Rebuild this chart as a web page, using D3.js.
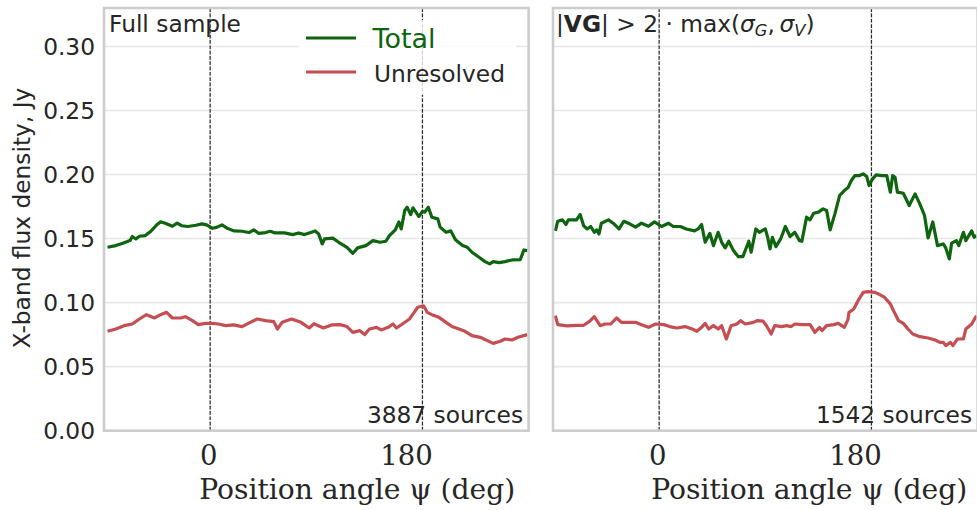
<!DOCTYPE html>
<html>
<head>
<meta charset="utf-8">
<script src="https://cdn.jsdelivr.net/npm/d3@7"></script>
<style>
  body { margin: 0; background: #fff; }
  svg text { font-family: "DejaVu Sans", sans-serif; fill: #262626; }
  .serif { font-family: "DejaVu Serif", serif; }
</style>
</head>
<body>
<div id="chart"></div>
<script>
// tick values
var yTicks = [0, 0.05, 0.10, 0.15, 0.20, 0.25, 0.30];
var xTicks = [0, 180];
var xTickLabels = ["0", "180"];
var seriesNames = ["Total", "Unresolved"];
var sourceCounts = [3887, 1542];

// full sample, total flux  [angle, Jy]
var fullTotal = [[-87,0.1432],[-80,0.1445],[-74,0.1464],[-68,0.1484],[-66,0.1516],[-63,0.1497],[-60,0.1518],[-55,0.1523],[-50,0.156],[-45,0.161],[-42,0.163],[-38,0.162],[-32,0.1596],[-28,0.162],[-24,0.160],[-19,0.1594],[-12,0.1604],[-7,0.1615],[-3,0.1607],[2,0.158],[6,0.1589],[10,0.1607],[14,0.1583],[20,0.156],[27,0.1557],[33,0.1547],[37,0.1568],[41,0.1541],[47,0.1547],[51,0.1557],[55,0.1544],[63,0.1544],[70,0.1531],[75,0.1544],[80,0.1531],[86,0.1549],[89,0.156],[92,0.1536],[95,0.1458],[97,0.1497],[104,0.1503],[109,0.1471],[116,0.1432],[121,0.1385],[125,0.1427],[132,0.1445],[138,0.1484],[144,0.1471],[149,0.1479],[152,0.1523],[157,0.1568],[160,0.163],[162,0.1575],[165,0.1719],[167,0.1745],[170,0.1687],[172,0.174],[177,0.1672],[180,0.1713],[182,0.1706],[185,0.1745],[188,0.1667],[193,0.1654],[195,0.1589],[200,0.1549],[204,0.156],[208,0.149],[214,0.1445],[218,0.1432],[222,0.1393],[228,0.1354],[233,0.132],[237,0.1302],[240,0.132],[245,0.1312],[250,0.132],[256,0.1333],[263,0.1336],[266,0.1411],[269,0.1406]];

// full sample, unresolved
var fullUnres = [[-87,0.0776],[-80,0.0794],[-73,0.082],[-66,0.0833],[-60,0.0872],[-54,0.0906],[-47,0.088],[-42,0.0906],[-37,0.0924],[-32,0.088],[-25,0.088],[-21,0.089],[-15,0.0859],[-10,0.0828],[-4,0.0838],[2,0.0838],[7,0.0833],[13,0.082],[20,0.0826],[27,0.0813],[34,0.0846],[40,0.0872],[47,0.0859],[54,0.0852],[57,0.0794],[61,0.0846],[69,0.0872],[77,0.0846],[84,0.0802],[88,0.0835],[96,0.0802],[103,0.0826],[110,0.0828],[116,0.0813],[121,0.0768],[127,0.0781],[131,0.075],[135,0.0794],[141,0.0807],[145,0.0787],[151,0.0807],[155,0.0833],[158,0.0802],[163,0.0833],[169,0.0872],[173,0.0924],[176,0.0964],[181,0.0975],[184,0.0924],[188,0.0906],[194,0.0885],[200,0.0846],[205,0.0813],[211,0.0794],[216,0.0776],[222,0.0742],[229,0.0729],[235,0.0703],[240,0.0682],[246,0.0698],[250,0.0716],[256,0.0708],[261,0.0729],[269,0.075]];

// |VG| cut, total flux
var vgTotal = [[-88,0.156],[-86,0.1635],[-82,0.1646],[-79,0.161],[-77,0.1646],[-70,0.1646],[-67,0.1688],[-64,0.160],[-61,0.1575],[-58,0.1594],[-55,0.1549],[-53,0.1568],[-51,0.1536],[-49,0.162],[-43,0.1646],[-39,0.162],[-34,0.1575],[-30,0.1635],[-25,0.1615],[-20,0.1589],[-15,0.162],[-9,0.1596],[-4,0.163],[2,0.1594],[8,0.162],[12,0.1594],[18,0.1594],[23,0.1575],[30,0.156],[33,0.1575],[36,0.161],[39,0.1471],[43,0.1541],[46,0.1445],[50,0.1549],[53,0.1471],[56,0.1427],[59,0.1479],[63,0.1406],[67,0.1359],[71,0.1359],[76,0.1479],[78,0.1393],[82,0.1575],[85,0.1549],[88,0.1566],[90,0.1575],[92,0.151],[94,0.1419],[96,0.151],[99,0.1437],[103,0.1497],[107,0.1594],[111,0.1516],[115,0.1549],[119,0.1484],[121,0.1479],[125,0.1667],[128,0.1646],[131,0.1698],[135,0.1706],[139,0.1732],[142,0.1719],[145,0.1568],[149,0.1693],[153,0.1836],[157,0.1875],[160,0.1896],[163,0.1953],[166,0.1992],[170,0.1992],[173,0.2005],[176,0.1984],[178,0.1914],[181,0.1966],[184,0.1997],[189,0.1992],[193,0.1992],[196,0.1862],[198,0.1992],[200,0.1979],[202,0.1862],[207,0.1854],[212,0.1758],[217,0.1849],[221,0.1771],[225,0.168],[228,0.1505],[232,0.163],[236,0.1445],[241,0.1458],[243,0.1427],[246,0.1341],[248,0.1464],[252,0.1484],[254,0.1445],[258,0.1549],[260,0.1484],[265,0.156],[267,0.151],[269,0.1523]];

// |VG| cut, unresolved
var vgUnres = [[-88,0.0898],[-86,0.0828],[-78,0.0818],[-70,0.0823],[-64,0.0823],[-59,0.0854],[-55,0.089],[-50,0.082],[-46,0.0833],[-41,0.0833],[-36,0.088],[-32,0.0846],[-26,0.0846],[-20,0.0846],[-15,0.0828],[-9,0.0807],[-3,0.0833],[4,0.0828],[9,0.0813],[15,0.0802],[22,0.0813],[28,0.0794],[32,0.0776],[36,0.0807],[39,0.0838],[42,0.0794],[46,0.082],[50,0.0794],[53,0.082],[57,0.0716],[61,0.082],[66,0.0833],[69,0.0859],[73,0.0833],[80,0.0846],[83,0.0859],[88,0.0856],[91,0.082],[95,0.0755],[98,0.082],[104,0.0813],[108,0.082],[112,0.0813],[115,0.0833],[121,0.0828],[128,0.0828],[132,0.0768],[136,0.0807],[138,0.0781],[142,0.082],[148,0.0828],[152,0.0838],[157,0.0807],[160,0.0865],[161,0.0924],[165,0.095],[169,0.1021],[173,0.108],[177,0.1086],[183,0.108],[187,0.1063],[191,0.1042],[196,0.099],[198,0.095],[203,0.0859],[207,0.0838],[211,0.0794],[215,0.0755],[221,0.0734],[228,0.0724],[234,0.0708],[238,0.069],[241,0.069],[243,0.0664],[247,0.069],[249,0.0664],[253,0.0716],[258,0.0716],[260,0.0794],[265,0.0833],[269,0.0898]];

var width = 977, height = 510;
var green = "#0f650f", red = "#c44e52";

var svg = d3.select("#chart").append("svg")
    .attr("width", width)
    .attr("height", height);

var y = d3.scaleLinear().domain([0, 0.33]).range([430.7, 8]);

var panels = [
  { left: 104, total: fullTotal, unres: fullUnres, count: sourceCounts[0], showY: true },
  { left: 553, total: vgTotal, unres: vgUnres, count: sourceCounts[1], showY: false }
];

panels.forEach(function(p, i) {
  var x = d3.scaleLinear().domain([-90, 270]).range([p.left, p.left + 424.6]);
  var g = svg.append("g");

  g.append("defs").append("clipPath").attr("id", "clip" + i)
    .append("rect")
    .attr("x", x.range()[0]).attr("y", y.range()[1])
    .attr("width", x.range()[1] - x.range()[0])
    .attr("height", y.range()[0] - y.range()[1]);

  // grid
  g.selectAll(".hgrid").data(yTicks).enter().append("line")
    .attr("x1", x.range()[0]).attr("x2", x.range()[1])
    .attr("y1", d => y(d)).attr("y2", d => y(d))
    .attr("stroke", "#e8e8e8").attr("stroke-width", 1.6);
  g.selectAll(".vgrid").data(xTicks).enter().append("line")
    .attr("x1", d => x(d)).attr("x2", d => x(d))
    .attr("y1", y.range()[0]).attr("y2", y.range()[1])
    .attr("stroke", "#e8e8e8").attr("stroke-width", 1.6);

  // dashed markers at 0 and 180
  g.selectAll(".vmark").data(xTicks).enter().append("line")
    .attr("x1", d => x(d)).attr("x2", d => x(d))
    .attr("y1", y.range()[0]).attr("y2", y.range()[1])
    .attr("stroke", "#2a2a2a").attr("stroke-width", 1.2)
    .attr("stroke-dasharray", "3.7,1.6");

  var line = d3.line().x(d => x(d[0])).y(d => y(d[1]));
  var lines = g.append("g").attr("clip-path", "url(#clip" + i + ")");
  lines.append("path").datum(p.total).attr("d", line)
    .attr("fill", "none").attr("stroke", green).attr("stroke-width", 3.2)
    .attr("stroke-linejoin", "round");
  lines.append("path").datum(p.unres).attr("d", line)
    .attr("fill", "none").attr("stroke", red).attr("stroke-width", 3.2)
    .attr("stroke-linejoin", "round");

  // y ticks
  if (p.showY) {
    g.selectAll(".ytick").data(yTicks).enter().append("text")
      .attr("x", x.range()[0] - 9).attr("y", d => y(d) + 8.6)
      .attr("text-anchor", "end").attr("font-size", 23.3)
      .text(d => d3.format(".2f")(d));
  }

  // x ticks (labels sit slightly left of the tick)
  var xoff = [-1.5, -16];
  g.selectAll(".xtick").data(xTicks).enter().append("text")
    .attr("class", "serif")
    .attr("x", (d, j) => x(d) + xoff[j]).attr("y", 465)
    .attr("text-anchor", "middle").attr("font-size", 27.5)
    .text((d, j) => xTickLabels[j]);

  g.append("text").attr("class", "serif")
    .attr("x", x(0) - 11 + (i ? 3 : 0)).attr("y", 499)
    .attr("font-size", 28.2)
    .text("Position angle \u03c8 (deg)");

  g.append("text")
    .attr("x", x.range()[1] - 5.5).attr("y", 422.5)
    .attr("text-anchor", "end").attr("font-size", 23.3)
    .text(p.count + " sources");

  // frame
  g.append("rect")
    .attr("x", x.range()[0]).attr("y", y.range()[1])
    .attr("width", x.range()[1] - x.range()[0])
    .attr("height", y.range()[0] - y.range()[1])
    .attr("fill", "none").attr("stroke", "#cdcdcd").attr("stroke-width", 2.6);
});

// panel titles
svg.append("text").attr("x", 109).attr("y", 32).attr("font-size", 23.3).text("Full sample");

var t = svg.append("text").attr("x", 556).attr("y", 32).attr("font-size", 23.3);
t.append("tspan").text("|");
t.append("tspan").attr("font-weight", "bold").text("VG");
t.append("tspan").text("| > 2 \u00b7 max(");
t.append("tspan").attr("font-style", "italic").text("\u03c3");
t.append("tspan").attr("font-style", "italic").attr("font-size", 16.3).attr("dy", 4).text("G");
t.append("tspan").attr("dy", -4).text(",\u2009");
t.append("tspan").attr("font-style", "italic").text("\u03c3");
t.append("tspan").attr("font-style", "italic").attr("font-size", 16.3).attr("dy", 4).text("V");
t.append("tspan").attr("dy", -4).text(")");

// y label
svg.append("text")
  .attr("transform", "translate(30,218) rotate(-90)")
  .attr("text-anchor", "middle").attr("font-size", 23.3)
  .text("X-band flux density, Jy");

// legend
var leg = svg.append("g");
leg.append("rect").attr("x", 298).attr("y", 20).attr("width", 218).attr("height", 75)
  .attr("rx", 4).attr("fill", "#fff").attr("fill-opacity", 0.8);
var legColors = [green, red];
var legY = [38, 72];
leg.selectAll(".lline").data(seriesNames).enter().append("line")
  .attr("x1", 306).attr("x2", 356)
  .attr("y1", (d, i) => legY[i]).attr("y2", (d, i) => legY[i])
  .attr("stroke", (d, i) => legColors[i]).attr("stroke-width", 3.2);
leg.append("text").attr("x", 372.5).attr("y", 48).attr("font-size", 27)
  .style("fill", green).text(seriesNames[0]);
leg.append("text").attr("x", 374).attr("y", 82).attr("font-size", 23.3)
  .text(seriesNames[1]);
</script>
</body>
</html>
